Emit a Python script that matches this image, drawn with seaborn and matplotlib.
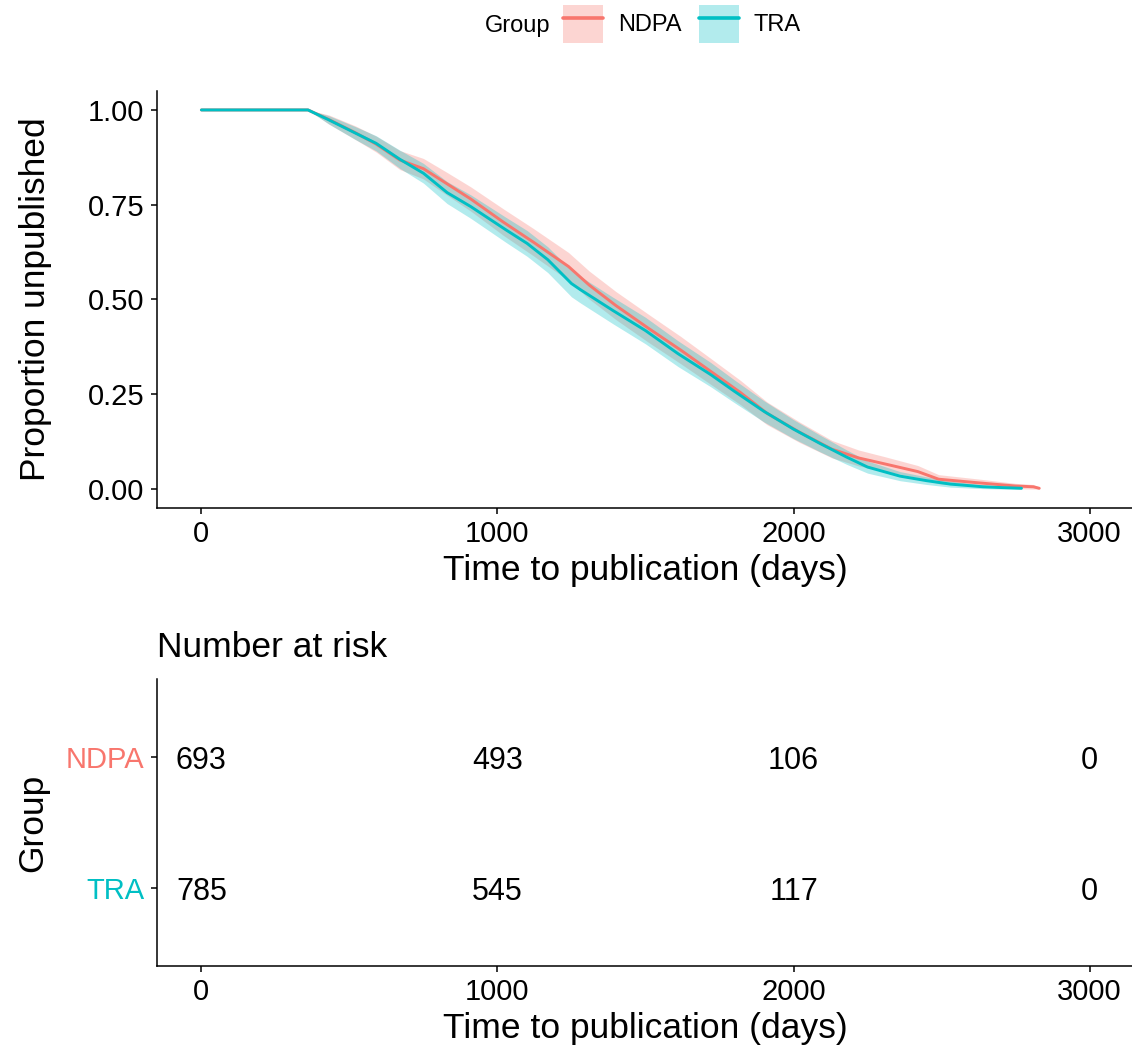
import numpy as np
import pandas as pd
import matplotlib
matplotlib.use("Agg")
import matplotlib.pyplot as plt
import matplotlib.transforms as mtransforms
from matplotlib.patches import Patch
from matplotlib.lines import Line2D
import seaborn as sns

# Kaplan-Meier estimates: time (days), survival and 95% confidence limits
groups = ["NDPA", "TRA"]
colors = {"NDPA": "#F8766D", "TRA": "#00BFC4"}

ndpa_time = [0, 360, 430, 520, 590, 670, 750, 830, 910, 1020, 1120, 1240, 1310, 1400,
             1510, 1620, 1730, 1820, 1910, 2020, 2130, 2220, 2310, 2420, 2490, 2630,
             2750, 2810, 2830]
ndpa_surv = [1.0, 1.0, 0.975, 0.940, 0.910, 0.868, 0.845, 0.805, 0.765, 0.704, 0.652,
             0.587, 0.538, 0.484, 0.424, 0.366, 0.305, 0.255, 0.200, 0.150, 0.105,
             0.082, 0.066, 0.046, 0.026, 0.016, 0.008, 0.006, 0.002]
ndpa_lower = [1.0, 1.0, 0.963, 0.922, 0.889, 0.843, 0.818, 0.775, 0.733, 0.669, 0.616,
              0.550, 0.501, 0.447, 0.387, 0.330, 0.271, 0.223, 0.170, 0.123, 0.082,
              0.061, 0.047, 0.030, 0.014, 0.006, 0.001, 0.000, 0.000]
ndpa_upper = [1.0, 1.0, 0.987, 0.958, 0.931, 0.893, 0.872, 0.835, 0.797, 0.739, 0.688,
              0.624, 0.575, 0.521, 0.461, 0.402, 0.339, 0.287, 0.230, 0.177, 0.128,
              0.103, 0.085, 0.062, 0.038, 0.026, 0.015, 0.012, 0.005]

tra_time = [0, 360, 430, 520, 590, 670, 750, 830, 910, 1030, 1100, 1170, 1250, 1280,
            1390, 1500, 1610, 1720, 1800, 1900, 2000, 2090, 2180, 2250, 2360, 2450,
            2530, 2640, 2700, 2770]
tra_surv = [1.0, 1.0, 0.974, 0.939, 0.912, 0.870, 0.833, 0.782, 0.745, 0.683, 0.648,
            0.605, 0.542, 0.526, 0.471, 0.418, 0.357, 0.302, 0.258, 0.205, 0.158,
            0.120, 0.084, 0.058, 0.034, 0.022, 0.013, 0.006, 0.004, 0.002]
tra_lower = [1.0, 1.0, 0.963, 0.922, 0.892, 0.846, 0.807, 0.753, 0.714, 0.650, 0.614,
             0.571, 0.507, 0.491, 0.436, 0.383, 0.323, 0.270, 0.228, 0.177, 0.133,
             0.098, 0.065, 0.042, 0.022, 0.012, 0.005, 0.001, 0.000, 0.000]
tra_upper = [1.0, 1.0, 0.985, 0.956, 0.932, 0.894, 0.859, 0.811, 0.776, 0.716, 0.682,
             0.639, 0.577, 0.561, 0.506, 0.453, 0.391, 0.334, 0.288, 0.233, 0.183,
             0.142, 0.103, 0.074, 0.046, 0.032, 0.021, 0.011, 0.008, 0.005]

# Number at risk table
risk_times = [0, 1000, 2000, 3000]
ndpa_risk = [693, 493, 106, 0]
tra_risk = [785, 545, 117, 0]

x_ticks = [0, 1000, 2000, 3000]
y_ticks = [0.00, 0.25, 0.50, 0.75, 1.00]

curves = pd.concat([
    pd.DataFrame({"time": ndpa_time, "surv": ndpa_surv, "lower": ndpa_lower,
                  "upper": ndpa_upper, "Group": "NDPA"}),
    pd.DataFrame({"time": tra_time, "surv": tra_surv, "lower": tra_lower,
                  "upper": tra_upper, "Group": "TRA"}),
], ignore_index=True)

risk = pd.DataFrame({
    "time": risk_times * 2,
    "n": ndpa_risk + tra_risk,
    "Group": ["NDPA"] * 4 + ["TRA"] * 4,
})

sns.set_theme(style="ticks")
plt.rcParams["font.family"] = ["Liberation Sans", "DejaVu Sans"]
plt.rcParams.update({
    "axes.linewidth": 1.1,
    "xtick.major.width": 1.1,
    "ytick.major.width": 1.1,
    "xtick.color": "black",
    "ytick.color": "black",
    "axes.edgecolor": "black",
    "axes.labelcolor": "black",
    "text.color": "black",
    "axes.titlecolor": "black",
})

W, H = 1132, 1059
fig = plt.figure(figsize=(W / 100, H / 100), dpi=100)

TICK_FS = 21
TITLE_FS = 25.5

# ---- survival curves ----
ax = fig.add_axes([157 / W, 1 - 508 / H, (1134 - 157) / W, (508 - 91) / H])
sns.lineplot(data=curves, x="time", y="surv", hue="Group", hue_order=groups,
             palette=colors, estimator=None, sort=False, linewidth=2.1,
             legend=False, ax=ax)
for g in groups:
    d = curves[curves["Group"] == g]
    ax.fill_between(d["time"], d["lower"], d["upper"], color=colors[g],
                    alpha=0.3, linewidth=0)
ax.set_xlim(-150, 3150)
ax.set_ylim(-0.05, 1.05)
ax.set_xticks(x_ticks)
ax.set_yticks(y_ticks)
ax.set_yticklabels([f"{v:.2f}" for v in y_ticks])
ax.tick_params(labelsize=TICK_FS, length=4, pad=5)
ax.set_xlabel("Time to publication (days)", fontsize=TITLE_FS, labelpad=4)
ax.set_ylabel("Proportion unpublished", fontsize=TITLE_FS, labelpad=26)
sns.despine(ax=ax)

# ---- number at risk table ----
axr = fig.add_axes([157 / W, 1 - 966 / H, (1134 - 157) / W, (966 - 679) / H])
shift = mtransforms.offset_copy(axr.transData, fig=fig, x=0, y=-4, units="dots")
for _, row in risk.iterrows():
    axr.text(row["time"], groups.index(row["Group"]), f"{row['n']}",
             ha="center", va="center", fontsize=22, transform=shift)
axr.set_xlim(-150, 3150)
axr.set_ylim(1.6, -0.6)
axr.set_xticks(x_ticks)
axr.set_yticks(range(len(groups)))
axr.set_yticklabels(groups)
for lab, g in zip(axr.get_yticklabels(), groups):
    lab.set_color(colors[g])
axr.tick_params(labelsize=TICK_FS, length=4, pad=5)
axr.set_xlabel("Time to publication (days)", fontsize=TITLE_FS, labelpad=4)
axr.set_ylabel("Group", fontsize=TITLE_FS, labelpad=12)
axr.set_title("Number at risk", loc="left", fontsize=TITLE_FS, pad=16)
sns.despine(ax=axr)

# ---- legend ----
fig.text(485 / W, 1 - 26 / H, "Group", fontsize=17, va="center", ha="left")
handles = [(Patch(facecolor=colors[g], alpha=0.3, linewidth=0),
            Line2D([], [], color=colors[g], linewidth=2.6)) for g in groups]
fig.legend(handles, groups, loc="center left", bbox_to_anchor=(563 / W, 1 - 24 / H),
           ncol=2, frameon=False, fontsize=17, borderpad=0, borderaxespad=0,
           handlelength=1.7, handleheight=2.1, handletextpad=0.65,
           columnspacing=0.7)

fig.savefig("out.png", dpi=100)
